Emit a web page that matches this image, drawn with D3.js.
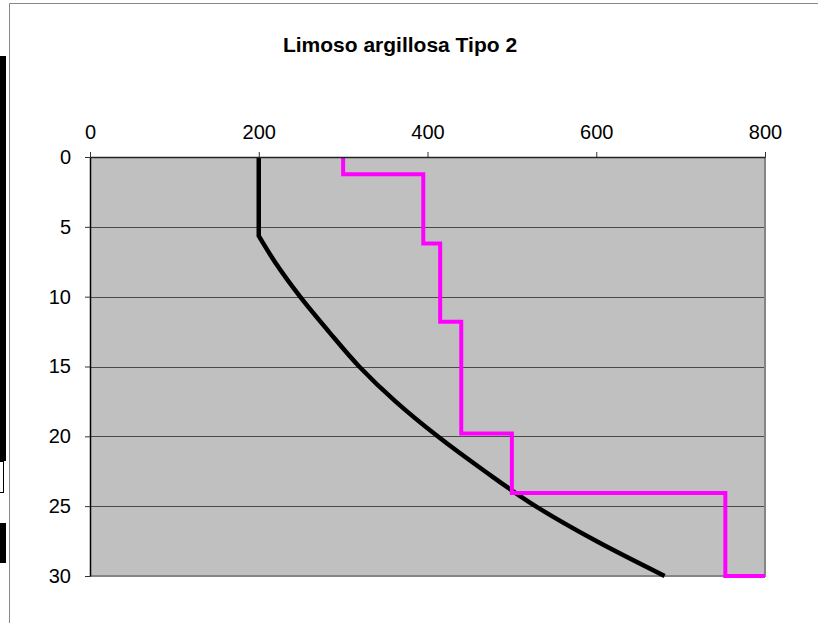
<!DOCTYPE html>
<html>
<head>
<meta charset="utf-8">
<script src="https://cdn.jsdelivr.net/npm/d3@7"></script>
<style>
  body { margin: 0; background: #fff; }
  svg { display: block; font-family: "Liberation Sans", Arial, sans-serif; }
</style>
</head>
<body>
<div id="chart"></div>
<script>
var title = 'Limoso argillosa Tipo 2'
var xTicks = [0, 200, 400, 600, 800]
var yTicks = [0, 5, 10, 15, 20, 25, 30]

// black curve: depth -> value
var curveDepth = [0, 5.65, 7.5, 10, 12.5, 15, 17.5, 20, 22.5, 25, 27.5, 30]
var curveValue = [200, 200, 219, 249, 283, 319, 362, 412, 468, 528, 600, 681]

// magenta step line: value of each layer and depth where it ends
var stepValue = [300, 395, 415, 440, 500, 753]
var stepDepth = [0, 1.24, 6.2, 11.8, 19.8, 24.05, 30]
var stepEndValue = 800

const width = 818
const height = 623
const margin = { top: 157, right: 53, bottom: 47, left: 90 }

var svg = d3.select('#chart')
  .append('svg')
  .attr('width', width)
  .attr('height', height)

// leftover bits of the neighbouring chart on the left edge
svg.append('rect').attr('x', 0).attr('y', 56).attr('width', 6).attr('height', 405).attr('fill', '#000')
svg.append('rect').attr('x', -1).attr('y', 461.5).attr('width', 4.5).attr('height', 31).attr('fill', 'none').attr('stroke', '#000')
svg.append('rect').attr('x', 0).attr('y', 523).attr('width', 6).attr('height', 40).attr('fill', '#000')

// chart area border
svg.append('path')
  .attr('d', 'M9.5,' + height + 'V3.5H' + width)
  .attr('fill', 'none')
  .attr('stroke', '#888')

svg.append('text')
  .attr('x', 400)
  .attr('y', 52)
  .attr('text-anchor', 'middle')
  .attr('font-size', 21)
  .attr('font-weight', 'bold')
  .text(title)

var x = d3.scaleLinear()
  .domain([0, 800])
  .range([margin.left, width - margin.right])
var y = d3.scaleLinear()
  .domain([0, 30])
  .range([margin.top, height - margin.bottom])

// plot background
svg.append('rect')
  .attr('x', x(0))
  .attr('y', y(0))
  .attr('width', x(800) - x(0))
  .attr('height', y(30) - y(0))
  .attr('fill', '#c0c0c0')

// horizontal gridlines
svg.append('g')
  .selectAll('line')
  .data(yTicks.slice(1, -1))
  .join('line')
  .attr('x1', x(0))
  .attr('x2', x(800))
  .attr('y1', d => Math.round(y(d)) + 0.5)
  .attr('y2', d => Math.round(y(d)) + 0.5)
  .attr('stroke', '#4a4a4a')

// right and bottom border
svg.append('path')
  .attr('d', 'M' + x(800) + ',' + y(0) + 'V' + y(30) + 'H' + x(0))
  .attr('fill', 'none')
  .attr('stroke', '#858585')
  .attr('stroke-width', 2)

// black curve: straight down to the bend, then smooth
var line = d3.line()
  .x(d => x(d[1]))
  .y(d => y(d[0]))
var smooth = d3.line()
  .x(d => x(d[1]))
  .y(d => y(d[0]))
  .curve(d3.curveMonotoneY)
var pts = curveDepth.map((d, i) => [d, curveValue[i]])
var dCurve = line(pts.slice(0, 2)) + smooth(pts.slice(1)).replace(/^M[^C]*/, '')
svg.append('path')
  .attr('d', dCurve)
  .attr('fill', 'none')
  .attr('stroke', '#000')
  .attr('stroke-width', 4.5)

// magenta steps
var stepPts = []
stepValue.forEach(function (v, i) {
  stepPts.push([stepDepth[i], v])
  stepPts.push([stepDepth[i + 1], v])
})
stepPts.push([30, stepEndValue])
svg.append('path')
  .attr('d', line(stepPts))
  .attr('fill', 'none')
  .attr('stroke', '#ff00ff')
  .attr('stroke-width', 4)
  .attr('stroke-linejoin', 'miter')

// axes
var xAxis = d3.axisTop(x).tickValues(xTicks).tickSize(5).tickPadding(13).tickSizeOuter(0)
var yAxis = d3.axisLeft(y).tickValues(yTicks).tickSize(5).tickPadding(14).tickSizeOuter(0)

var gx = svg.append('g')
  .attr('transform', 'translate(0,' + y(0) + ')')
  .call(xAxis)
var gy = svg.append('g')
  .attr('transform', 'translate(' + x(0) + ',0)')
  .call(yAxis)

gx.select('.domain').attr('stroke', '#222').attr('stroke-width', 1.5)
gy.select('.domain').attr('stroke', '#000').attr('stroke-width', 1.5)
svg.selectAll('.tick line').attr('stroke', '#333')
svg.selectAll('.tick text')
  .attr('font-size', 20)
  .attr('font-weight', 'normal')
  .attr('font-family', '"Liberation Sans", Arial, sans-serif')
  .attr('fill', '#000')
</script>
</body>
</html>
